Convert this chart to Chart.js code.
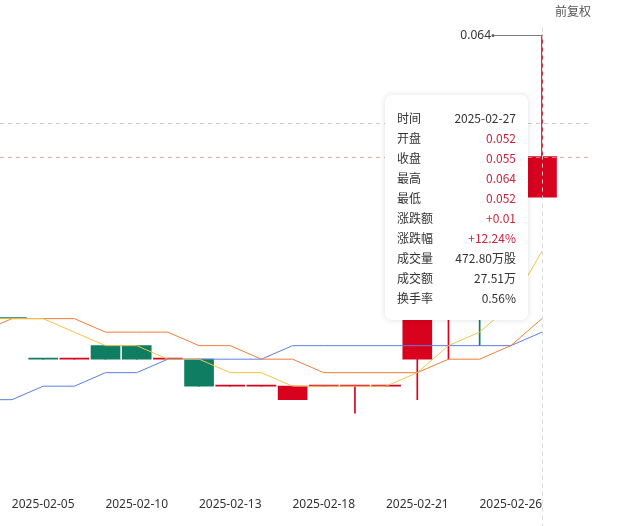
<!DOCTYPE html>
<html>
<head>
<meta charset="utf-8">
<script src="https://cdn.jsdelivr.net/npm/chart.js@4.4.1/dist/chart.umd.min.js"></script>
<style>
	html, body { margin: 0; padding: 0; background: #fff; }
	#wrap { position: relative; width: 617px; height: 526px; overflow: hidden; font-family: "Noto Sans CJK SC", "Noto Sans", sans-serif; }
	#fq { position: absolute; left: 555px; top: 2px; font-size: 12px; color: #555; }
	#tip { position: absolute; display: none; top: 95px; width: 119px; padding: 13px 12px 12px 12px; background: #fff;
		border-radius: 7px; box-shadow: 0 0 6px rgba(0,0,0,0.13); font-size: 12px; color: #333; }
	#tip .row { display: flex; justify-content: space-between; height: 20px; line-height: 20px; }
	#tip .up { color: #c8263c; }
</style>
</head>
<body>
<div id="wrap">
	<canvas id="kline" width="617" height="526"></canvas>
	<div id="fq">前复权</div>
	<div id="tip"></div>
</div>
<script>
// trading days, first one sits just off the left edge
let dates = ['2025-01-24', '2025-01-27', '2025-02-05', '2025-02-06', '2025-02-07', '2025-02-10', '2025-02-11',
	'2025-02-12', '2025-02-13', '2025-02-14', '2025-02-17', '2025-02-18', '2025-02-19', '2025-02-20',
	'2025-02-21', '2025-02-24', '2025-02-25', '2025-02-26', '2025-02-27'];
let opens  = [0.044, 0.043, 0.040, 0.040, 0.041, 0.041, 0.040, 0.040, 0.038, 0.038, 0.037, 0.038, 0.038, 0.038, 0.040, 0.044, 0.047, 0.045, 0.052];
let closes = [0.044, 0.043, 0.040, 0.040, 0.040, 0.040, 0.040, 0.038, 0.038, 0.038, 0.038, 0.038, 0.038, 0.038, 0.043, 0.046, 0.045, 0.049, 0.055];
let highs  = [0.045, 0.043, 0.040, 0.040, 0.041, 0.041, 0.040, 0.040, 0.038, 0.038, 0.038, 0.038, 0.038, 0.038, 0.044, 0.048, 0.048, 0.050, 0.064];
let lows   = [0.043, 0.043, 0.040, 0.040, 0.040, 0.040, 0.040, 0.038, 0.038, 0.038, 0.037, 0.038, 0.036, 0.038, 0.037, 0.040, 0.041, 0.045, 0.052];
let ma5  = [0.043, 0.043, 0.043, 0.042, 0.041, 0.041, 0.040, 0.040, 0.039, 0.039, 0.038, 0.038, 0.038, 0.038, 0.039, 0.041, 0.042, 0.044, 0.048];
let ma10 = [0.042, 0.043, 0.043, 0.043, 0.042, 0.042, 0.042, 0.041, 0.041, 0.040, 0.040, 0.039, 0.039, 0.039, 0.039, 0.040, 0.040, 0.041, 0.043];
let ma20 = [0.037, 0.037, 0.038, 0.038, 0.039, 0.039, 0.040, 0.040, 0.040, 0.040, 0.041, 0.041, 0.041, 0.041, 0.041, 0.041, 0.041, 0.041, 0.042];
let tickIdx = [2, 5, 8, 11, 14, 17];

// extra fields only shown in the tooltip of the last day
let tipVolume = '472.80万股';
let tipAmount = '27.51万';
let tipTurnover = '0.56%';
let pointerValue = 0.0575; // where the mouse sits on the price axis

let upColor = '#d8021e';
let downColor = '#0e7d61';

function isUp(i) {
	if (closes[i] !== opens[i]) return closes[i] > opens[i];
	return i === 0 || closes[i] >= closes[i - 1];
}
let candleColors = dates.map((d, i) => isUp(i) ? upColor : downColor);

let bodyData = dates.map((d, i) => ({ x: i, y: [opens[i], closes[i]] }));
let wickData = dates.map((d, i) => ({ x: i, y: [lows[i], highs[i]] }));
let toLine = arr => arr.map((v, i) => ({ x: i, y: v }));

let lastIdx = dates.length - 1;

function renderTip(context) {
	let tip = context.tooltip;
	let el = document.getElementById('tip');
	if (!tip.dataPoints || !tip.dataPoints.length) { el.style.display = 'none'; return; }
	let i = tip.dataPoints[0].dataIndex;
	let prev = closes[i - 1];
	let diff = closes[i] - prev;
	let sign = diff >= 0 ? '+' : '-';
	let rows = [
		['时间', dates[i], ''],
		['开盘', opens[i].toFixed(3), 'up'],
		['收盘', closes[i].toFixed(3), 'up'],
		['最高', highs[i].toFixed(3), 'up'],
		['最低', lows[i].toFixed(3), 'up'],
		['涨跌额', sign + Math.abs(diff).toFixed(2), 'up'],
		['涨跌幅', sign + (Math.abs(diff) / prev * 100).toFixed(2) + '%', 'up'],
		['成交量', tipVolume, ''],
		['成交额', tipAmount, ''],
		['换手率', tipTurnover, '']
	];
	el.innerHTML = rows.map(r => '<div class="row"><span>' + r[0] + '</span><span class="' + r[2] + '">' + r[1] + '</span></div>').join('');
	el.style.display = 'block';
	let px = tip.dataPoints[0].element.x;
	el.style.left = (px - 14 - el.offsetWidth) + 'px';
}

let overlay = {
	id: 'overlay',
	afterDraw(chart) {
		let ctx = chart.ctx;
		let area = chart.chartArea;
		let xs = chart.scales.x, ys = chart.scales.y;
		ctx.save();
		// last close line and pointer line
		ctx.setLineDash([4, 4]);
		ctx.lineWidth = 1;
		let yClose = Math.round(ys.getPixelForValue(closes[lastIdx])) + 0.5;
		ctx.strokeStyle = 'rgba(222,150,150,0.8)';
		ctx.beginPath(); ctx.moveTo(area.left, yClose); ctx.lineTo(area.right, yClose); ctx.stroke();
		let yPtr = Math.round(ys.getPixelForValue(pointerValue)) + 0.5;
		ctx.strokeStyle = 'rgba(205,195,195,0.9)';
		ctx.beginPath(); ctx.moveTo(area.left, yPtr); ctx.lineTo(area.right, yPtr); ctx.stroke();
		// vertical pointer
		let xPtr = Math.round(xs.getPixelForValue(lastIdx)) + 0.5;
		ctx.strokeStyle = 'rgba(215,215,215,0.95)';
		ctx.beginPath(); ctx.moveTo(xPtr, area.top + 2); ctx.lineTo(xPtr, chart.height); ctx.stroke();
		// highest price marker
		ctx.setLineDash([]);
		let maxVal = Math.max(...highs);
		let maxIdx = highs.indexOf(maxVal);
		let mx = xs.getPixelForValue(maxIdx);
		let my = Math.round(ys.getPixelForValue(maxVal)) + 0.5;
		ctx.strokeStyle = '#808080';
		ctx.beginPath(); ctx.moveTo(mx - 49, my); ctx.lineTo(mx, my); ctx.stroke();
		ctx.fillStyle = '#666';
		ctx.beginPath(); ctx.arc(mx - 49, my, 1.5, 0, Math.PI * 2); ctx.fill();
		ctx.fillStyle = '#333';
		ctx.font = '12px "Noto Sans", "Noto Sans CJK SC", sans-serif';
		ctx.textAlign = 'right';
		ctx.textBaseline = 'middle';
		ctx.fillText(maxVal.toFixed(3), mx - 51, my);
		ctx.restore();
	}
};

let chart = new Chart('kline', {
	type: 'bar',
	data: {
		datasets: [
			{ type: 'bar', data: bodyData, backgroundColor: candleColors, barThickness: 29, grouped: false, minBarLength: 1, order: 2 },
			{ type: 'bar', data: wickData, backgroundColor: candleColors, barThickness: 1, grouped: false, order: 3 },
			{ type: 'line', data: toLine(ma5), borderColor: '#f3c24a', borderWidth: 1, pointRadius: 0, order: 1 },
			{ type: 'line', data: toLine(ma10), borderColor: '#f07d38', borderWidth: 1, pointRadius: 0, order: 1 },
			{ type: 'line', data: toLine(ma20), borderColor: '#5b7ee6', borderWidth: 1, pointRadius: 0, order: 1 }
		]
	},
	options: {
		responsive: false,
		animation: false,
		layout: { padding: { top: 25.5, right: 27, bottom: 6, left: 0 } },
		plugins: {
			legend: { display: false },
			tooltip: { enabled: false, external: renderTip }
		},
		scales: {
			x: {
				type: 'linear',
				offset: false,
				min: 1 - 12 / 31.18,
				max: lastIdx + 48 / 31.18,
				grid: { display: false, drawTicks: false, offset: false },
				border: { display: false },
				afterBuildTicks: scale => { scale.ticks = tickIdx.map(v => ({ value: v })); },
				ticks: {
					padding: 7.9,
					maxRotation: 0,
					autoSkip: false,
					color: '#333',
					font: { size: 12, family: '"Noto Sans", "Noto Sans CJK SC", sans-serif' },
					callback: v => dates[v]
				}
			},
			y: {
				display: false,
				min: 0.0303284,
				max: 0.0647015
			}
		}
	},
	plugins: [overlay]
});

chart.tooltip.setActiveElements([{ datasetIndex: 0, index: lastIdx }], {
	x: chart.scales.x.getPixelForValue(lastIdx),
	y: chart.scales.y.getPixelForValue(pointerValue)
});
</script>
</body>
</html>
